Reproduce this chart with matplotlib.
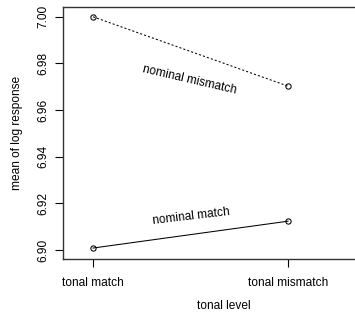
import matplotlib
matplotlib.use("Agg")
import matplotlib.pyplot as plt

# interaction plot data: mean of log response per tonal level
tonal_levels = ["tonal match", "tonal mismatch"]
nominal_match = [6.9009, 6.9124]
nominal_mismatch = [7.0000, 6.9703]

yticks = [6.90, 6.92, 6.94, 6.96, 6.98, 7.00]

plt.rcParams['font.family'] = ['Liberation Sans', 'DejaVu Sans']
plt.rcParams['font.size'] = 8.6

fig = plt.figure(figsize=(3.55, 3.2), dpi=100)
# right edge of the box falls outside the picture, as in the reference
ax = fig.add_axes([63 / 355, 61 / 320, 322.5 / 355, 252 / 320])

xs = [1, 2]
ax.plot(xs, nominal_mismatch, color='black', linestyle=(0, (2, 2)), linewidth=0.75,
        marker='o', markersize=3.8, markerfacecolor='none', markeredgewidth=0.75)
ax.plot(xs, nominal_match, color='black', linestyle='-', linewidth=0.75,
        marker='o', markersize=3.8, markerfacecolor='none', markeredgewidth=0.75)

ax.text(1.497, 6.9730, 'nominal mismatch', rotation=-13, ha='center', va='center')
ax.text(1.503, 6.9143, 'nominal match', rotation=6.7, ha='center', va='center')

ax.set_xlim(0.846, 2.5)
ax.set_ylim(6.8962, 7.0042)
ax.set_xticks(xs)
ax.set_xticklabels(tonal_levels)
ax.set_yticks(yticks)
ax.set_yticklabels(['%.2f' % v for v in yticks], rotation=90, va='center')
ax.tick_params(length=6, width=0.8, direction='out')
ax.tick_params(axis='y', pad=3.5)
ax.tick_params(axis='x', pad=7)

for s in ax.spines.values():
    s.set_linewidth(1.0)
    s.set_color('#333333')

ax.set_xlabel('tonal level', labelpad=8)
ax.set_ylabel('mean of log response', labelpad=10.5)

fig.savefig('out.png', dpi=100)
